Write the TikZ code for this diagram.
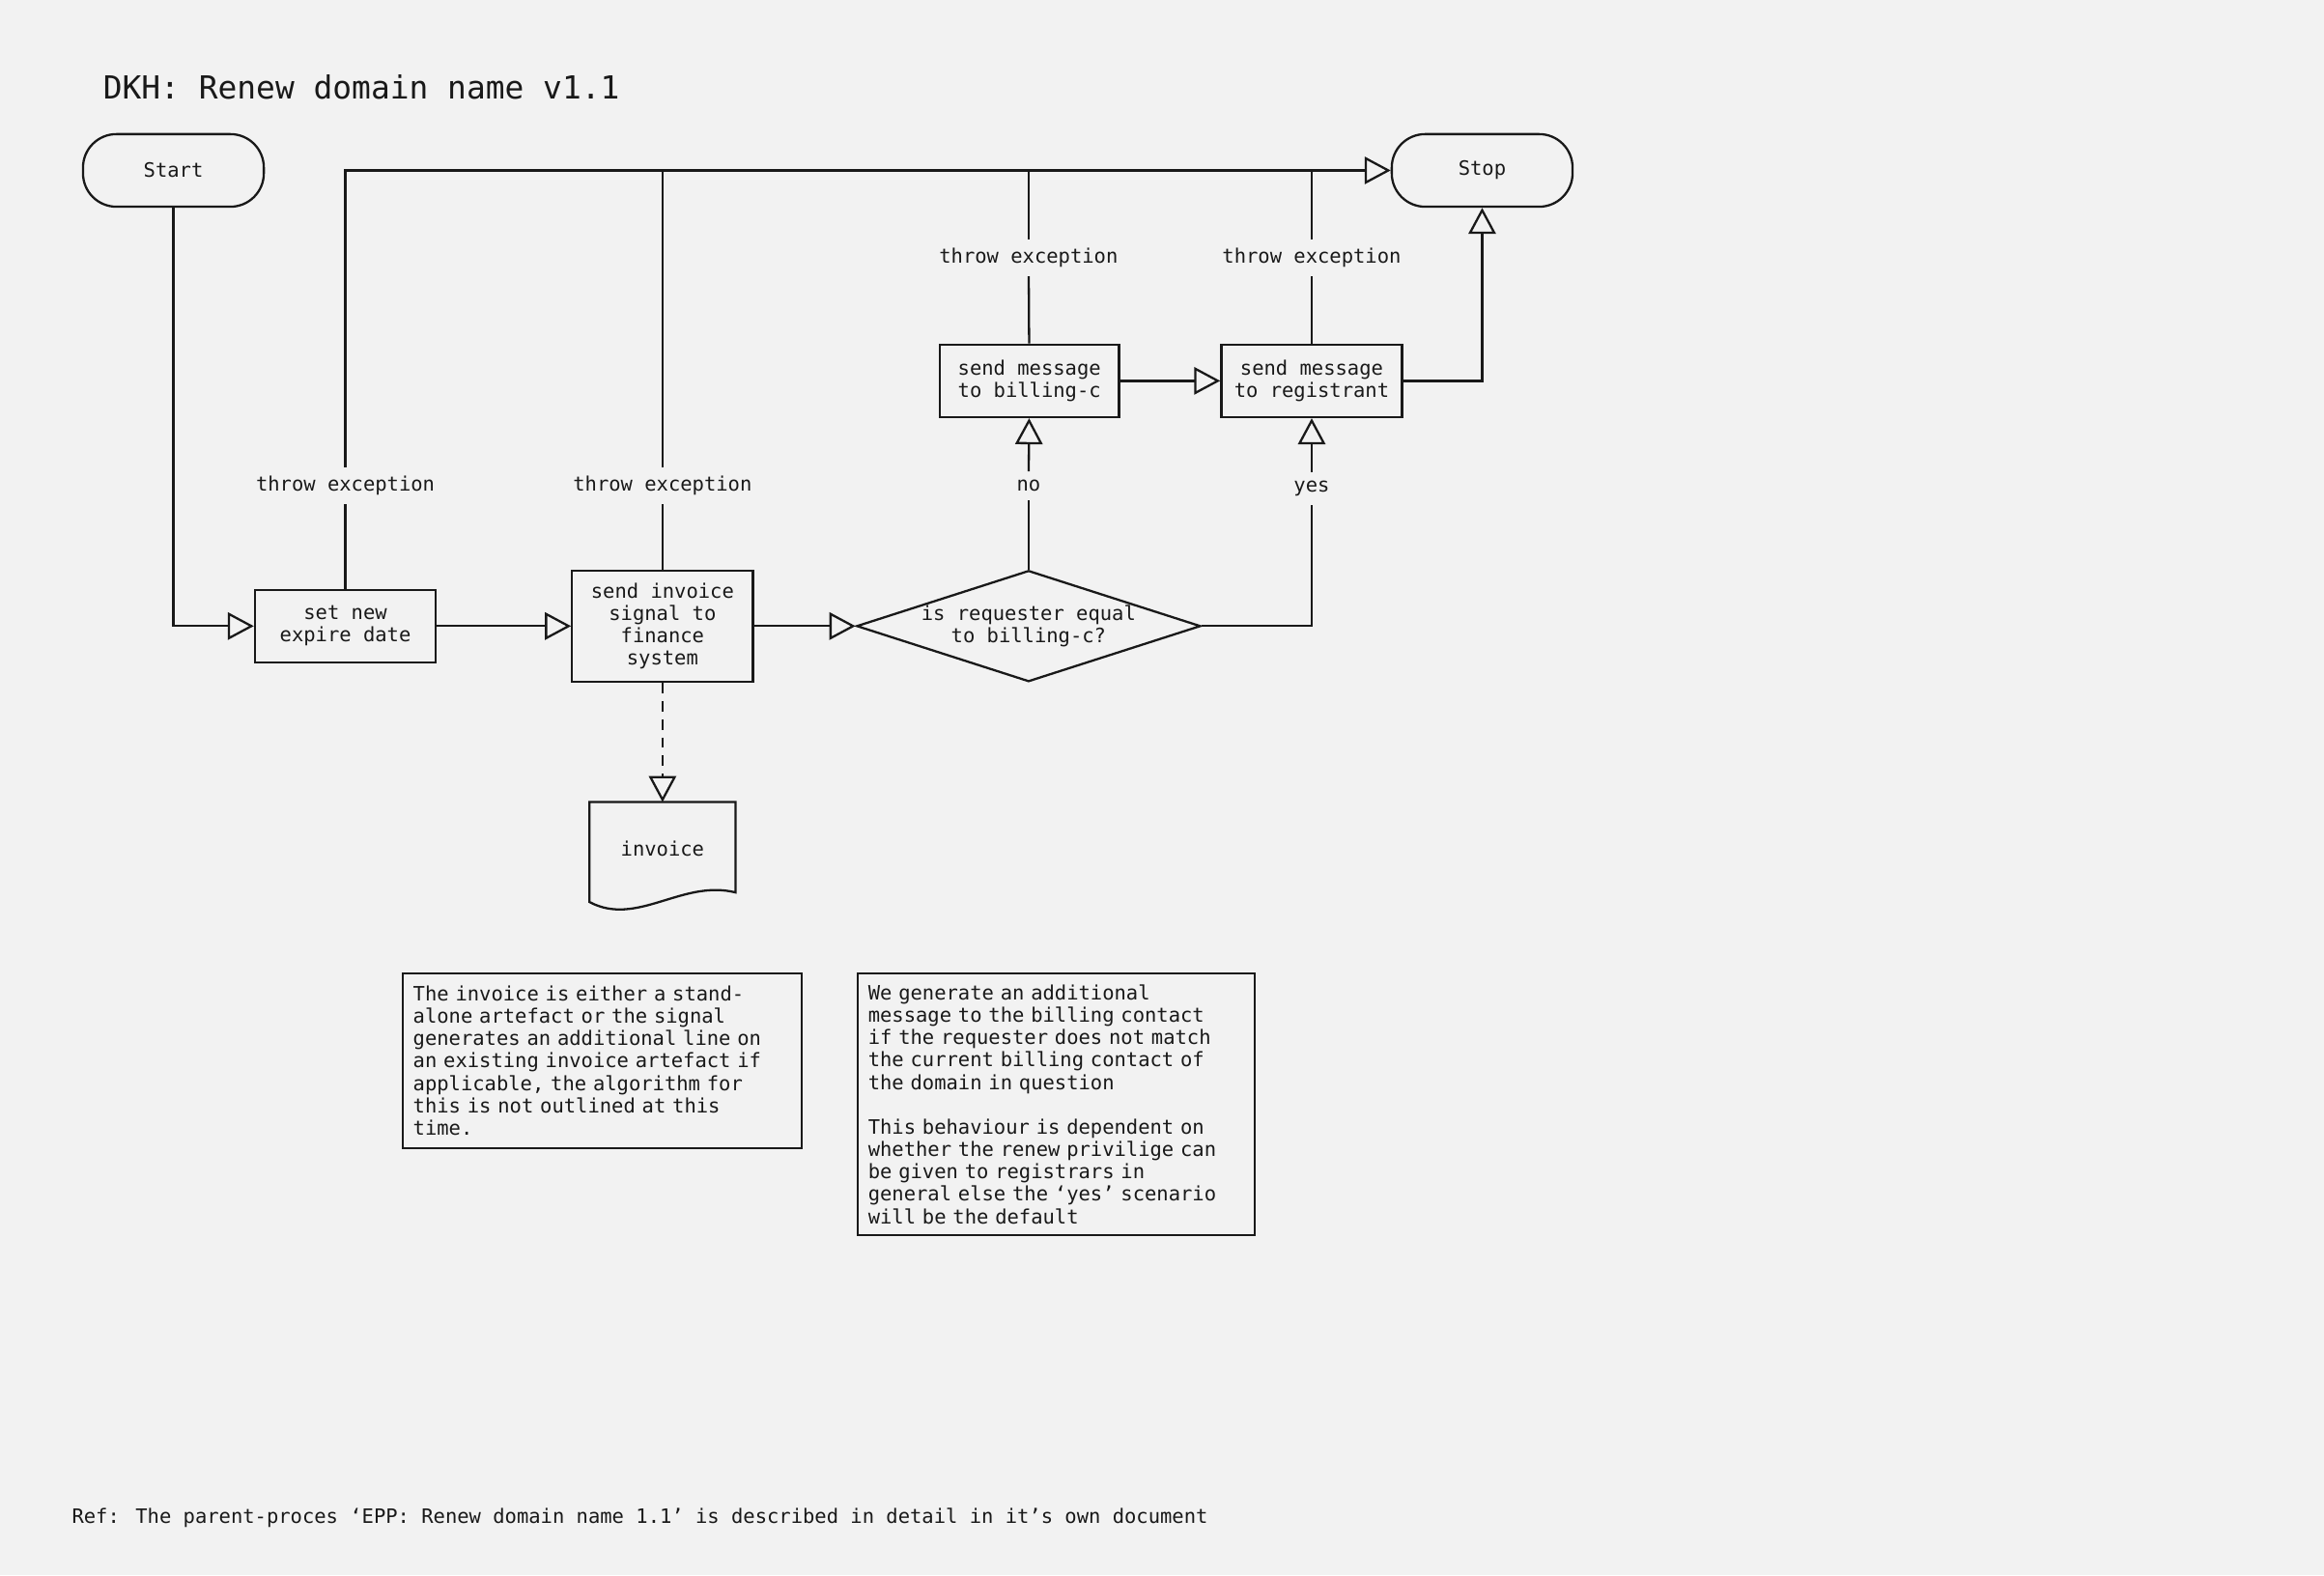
\documentclass[tikz,border=0pt]{standalone}
\usepackage{fontspec}
\setmainfont{DejaVu Sans Mono}
\usepackage{tikz}
\usetikzlibrary{arrows.meta, shapes.geometric, positioning}
\definecolor{paper}{RGB}{242,242,242}
\definecolor{ink}{RGB}{25,25,25}

\begin{document}
\begin{tikzpicture}[
    x=0.02cm, y=-0.02cm,
    line width=0.85pt,
    every node/.style={font=\fontsize{7.6}{8.6}\selectfont, text=ink},
    terminal/.style={rectangle, draw=ink, rounded corners=0.45cm, minimum width=2.44cm, minimum height=0.98cm, inner sep=0pt},
    procbox/.style={rectangle, draw=ink, align=center, minimum width=2.44cm, minimum height=0.98cm, inner sep=0pt},
    decision/.style={diamond, draw=ink, align=center, aspect=3.1, inner sep=0pt, minimum width=4.64cm, minimum height=1.5cm},
    doc/.style={rectangle, minimum width=1.94cm, minimum height=1.24cm, inner sep=0pt},
    lbl/.style={fill=paper, inner sep=3pt},
    note/.style={rectangle, draw=ink, align=left, anchor=north west, text width=5.1cm, inner sep=0.14cm},
    flow/.style={draw=ink, -{Triangle[open, length=10pt, width=10.5pt]}}
    ]
    % paper
    \fill[paper] (0,0) rectangle (1568,1063);
    \useasboundingbox (0,0) rectangle (1568,1063);

    \node[anchor=west, font=\fontsize{12.2}{14}\selectfont] (title) at (63,59) {DKH: Renew domain name v1.1};

    % terminals
    \node[terminal] (start) at (117,115) {Start};
    \node[terminal] (stop) at (1000,115) {Stop};

    % main row
    \node[procbox] (setdate) at (233,422.5) {set new\\expire date};
    \node[procbox, minimum height=1.5cm] (invsig) at (447,422.5) {send invoice\\signal to\\finance\\system};
    \node[decision] (decide) at (694,422.5) {is requester equal\\to billing-c?};

    % messages
    \node[procbox, minimum width=2.42cm] (msgbill) at (694.5,257) {send message\\to billing-c};
    \node[procbox] (msgreg) at (885,257) {send message\\to registrant};

    % document
    \node[doc] (invoice) at (447,573) {invoice};
    \draw[ink] (invoice.north west) -- (invoice.north east) -- ([yshift=0.05cm]invoice.south east)
        .. controls +(-36,-9) and +(32,17) .. ([yshift=-0.08cm]invoice.south west) -- cycle;

    % labels
    \node[lbl] (exc1) at (233,328) {throw exception};
    \node[lbl] (exc2) at (447,328) {throw exception};
    \node[lbl] (exc3) at (694,174) {throw exception};
    \node[lbl] (exc4) at (885,174) {throw exception};
    \node[lbl] (no) at (694,328) {no};
    \node[lbl] (yes) at (885,330) {yes};

    % connectors
    \draw[flow] (start) |- (setdate);
    \draw[flow] (setdate) -- (invsig);
    \draw[flow] (invsig) -- (decide);
    \draw[ink] (decide) -- (no);
    \draw[flow] (no) -- (msgbill);
    \draw[ink] (decide) -| (yes);
    \draw[flow] (yes) -- (msgreg);
    \draw[flow] (msgbill) -- (msgreg);
    \draw[flow] (msgreg) -| (stop);
    \draw[flow, dash pattern=on 4pt off 3pt] (invsig) -- (invoice);

    % exceptions
    \draw[ink] (setdate) -- (exc1);
    \draw[flow] (exc1) |- (stop);
    \draw[ink] (invsig) -- (exc2);
    \draw[ink] (exc2) -- (exc2 |- stop);
    \draw[ink] (msgbill) -- (exc3);
    \draw[ink] (exc3) -- (exc3 |- stop);
    \draw[ink] (msgreg) -- (exc4);
    \draw[ink] (exc4) -- (exc4 |- stop);

    % notes
    \node[note, minimum height=2.36cm] (note1) at (271,656) {The invoice is either a stand-\\alone artefact or the signal\\generates an additional line on\\an existing invoice artefact if\\applicable, the algorithm for\\this is not outlined at this\\time.};
    \node[note, minimum height=3.54cm, text width=5.08cm] (note2) at (578,656) {We generate an additional\\message to the billing contact\\if the requester does not match\\the current billing contact of\\the domain in question\\[8.6pt]This behaviour is dependent on\\whether the renew privilige can\\be given to registrars in\\general else the ‘yes’ scenario\\will be the default};

    \node[anchor=west] (ref) at (42,1024) {Ref: The parent-proces ‘EPP: Renew domain name 1.1’ is described in detail in it’s own document};
\end{tikzpicture}
\end{document}
